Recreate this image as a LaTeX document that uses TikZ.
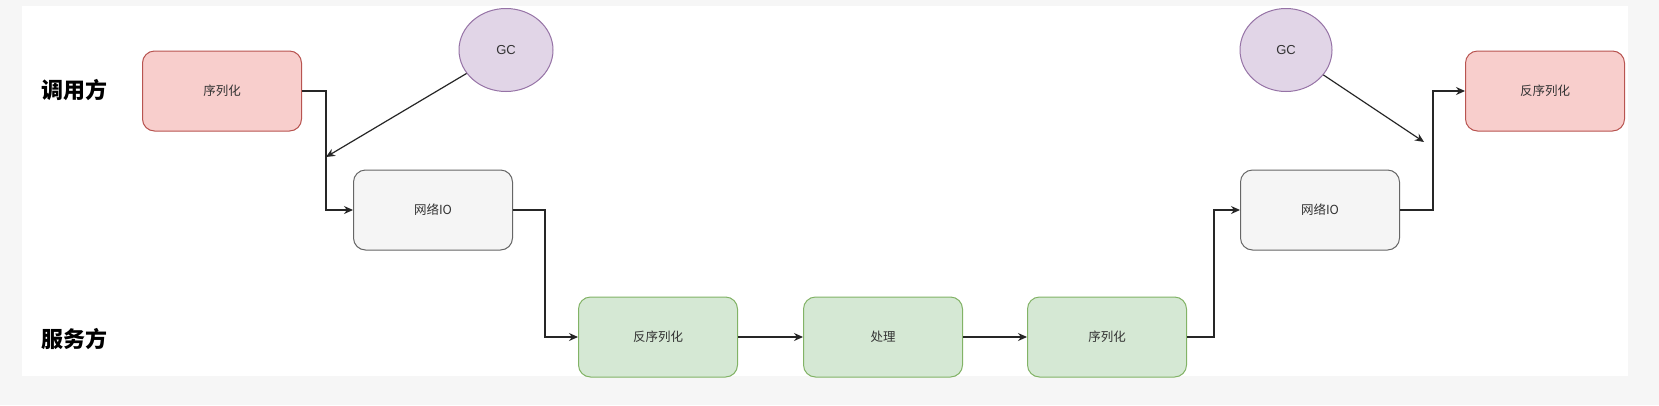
\documentclass[tikz,border=0pt]{standalone}
\usepackage{fontspec}
\setmainfont{Liberation Sans}
\newfontfamily\cjk{Noto Sans CJK SC}
\usetikzlibrary{arrows.meta,shapes.geometric}
\definecolor{redfill}{HTML}{F8CECC}
\definecolor{redline}{HTML}{B85450}
\definecolor{greenfill}{HTML}{D5E8D4}
\definecolor{greenline}{HTML}{82B366}
\definecolor{grayfill}{HTML}{F5F5F5}
\definecolor{grayline}{HTML}{666666}
\definecolor{purplefill}{HTML}{E1D5E7}
\definecolor{purpleline}{HTML}{9673A6}
\definecolor{txt}{HTML}{333333}
\tikzset{
  box/.style={rectangle, rounded corners=12pt, minimum width=159pt, minimum height=80pt, inner sep=0pt, line width=1pt, font=\cjk\fontsize{12.5}{14}\selectfont, text=txt},
  redbox/.style={box, fill=redfill, draw=redline},
  greenbox/.style={box, fill=greenfill, draw=greenline},
  graybox/.style={box, fill=grayfill, draw=grayline},
  gcnode/.style={ellipse, fill=purplefill, draw=purpleline, line width=1pt, inner sep=0pt, font=\fontsize{13}{15}\selectfont, text=txt},
  side/.style={font=\cjk\bfseries\fontsize{22}{24}\selectfont, anchor=west},
  arr/.style={line width=1.2pt, black!85, -{Stealth[length=9pt,width=8pt]}},
}
\begin{document}
\begin{tikzpicture}[x=1pt,y=-1pt]
\useasboundingbox (0,0) rectangle (1659,405);
\fill[gray!7] (0,0) rectangle (1659,405);
\fill[white] (22,6) rectangle (1628,376);

\node[side] (caller) at (38,90) {调用方};
\node[side] (server) at (38,339) {服务方};

\node[redbox] (s1) at (222,91) {序列化};
\node[gcnode, minimum width=94pt, minimum height=83pt] (gc1) at (506,50) {GC};
\node[graybox] (n1) at (433,210) {网络IO};

\node[greenbox] (d1) at (658,337) {反序列化};
\node[greenbox] (p) at (883,337) {处理};
\node[greenbox] (s2) at (1107,337) {序列化};

\node[graybox] (n2) at (1320,210) {网络IO};
\node[gcnode, minimum width=92pt, minimum height=83pt] (gc2) at (1286,50) {GC};
\node[redbox] (d2) at (1545,91) {反序列化};

\coordinate (g1e) at (326,157);
\coordinate (g2e) at (1424,142);

\draw[arr] (s1.east) -- ++(24,0) |- (n1.west);
\draw[arr] (gc1) -- (g1e);
\draw[arr] (n1.east) -- ++(32,0) |- (d1.west);
\draw[arr] (d1) -- (p);
\draw[arr] (p) -- (s2);
\draw[arr] (s2.east) -- ++(27,0) |- (n2.west);
\draw[arr] (n2.east) -- ++(33,0) |- (d2.west);
\draw[arr] (gc2) -- (g2e);
\end{tikzpicture}
\end{document}
